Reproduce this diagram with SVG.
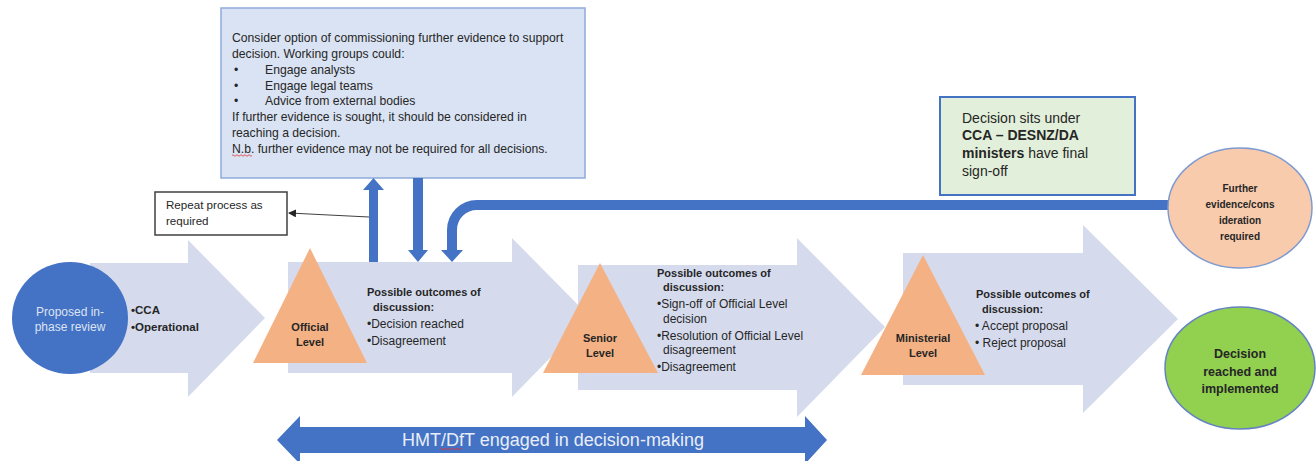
<svg xmlns="http://www.w3.org/2000/svg" width="1316" height="461" viewBox="0 0 1316 461">
<style>
  text { font-family: "Liberation Sans", Arial, sans-serif; fill: #262626; }
  .big { fill: #d5dbed; }
  .tri { fill: #f4b183; }
  .b { font-weight: bold; }
  .t10 { font-size: 10px; }
  .t11 { font-size: 11px; }
  .t12 { font-size: 12px; }
  .bx { font-size: 12.2px; }
  .mid { text-anchor: middle; }
  .blue { fill: #4472c4; }
</style>
<defs>
  <marker id="ah" markerWidth="8" markerHeight="8" refX="7" refY="4" orient="auto" markerUnits="userSpaceOnUse">
    <path d="M0,0 L8,4 L0,8 z" fill="#262626"/>
  </marker>
</defs>

<g id="stage-arrows">
  <polygon class="big" points="90,263 188,263 188,240 265,318 188,397 188,373 90,373"/>
  <polygon class="big" points="288,262 512,262 512,238 590,317 512,397 512,373 288,373"/>
  <polygon class="big" points="578,265 797,265 797,238 885,327 797,417 797,390 578,390"/>
  <polygon class="big" points="903,253 1083,253 1083,225 1178,319 1083,413 1083,385 903,385"/>
</g>

<g id="proposed">
  <ellipse cx="70" cy="318" rx="58" ry="56" fill="#4472c4"/>
  <text x="70" y="316" class="mid" style="font-size:12px;fill:#dce4f2">Proposed in-</text>
  <text x="70" y="331" class="mid" style="font-size:12px;fill:#dce4f2">phase review</text>
  <text x="131" y="314" class="b" style="font-size:11.5px">•CCA</text>
  <text x="131" y="331" class="b" style="font-size:11.5px">•Operational</text>
</g>

<g id="official">
  <polygon class="tri" points="310,248 367,363 253,363"/>
  <text x="310" y="331" class="b t11 mid">Official</text>
  <text x="310" y="346" class="b t11 mid">Level</text>
  <text x="367" y="296" class="b t11">Possible outcomes of</text>
  <text x="373" y="311" class="b t11">discussion:</text>
  <text x="367" y="328" class="t12">•Decision reached</text>
  <text x="367" y="345" class="t12">•Disagreement</text>
</g>

<g id="senior">
  <polygon class="tri" points="600,263 658,373 543,373"/>
  <text x="600" y="342" class="b t11 mid">Senior</text>
  <text x="600" y="357" class="b t11 mid">Level</text>
  <text x="657" y="277" class="b t11">Possible outcomes of</text>
  <text x="663" y="291" class="b t11">discussion:</text>
  <text x="657" y="308" class="t12">•Sign-off of Official Level</text>
  <text x="663" y="323" class="t12">decision</text>
  <text x="657" y="340" class="t12">•Resolution of Official Level</text>
  <text x="663" y="354" class="t12">disagreement</text>
  <text x="657" y="371" class="t12">•Disagreement</text>
</g>

<g id="ministerial">
  <polygon class="tri" points="923,255 985,375 861,375"/>
  <text x="923" y="342" class="b t11 mid">Ministerial</text>
  <text x="923" y="357" class="b t11 mid">Level</text>
  <text x="976" y="298" class="b t11">Possible outcomes of</text>
  <text x="982" y="313" class="b t11">discussion:</text>
  <text x="975" y="330" class="t12">• Accept proposal</text>
  <text x="975" y="347" class="t12">• Reject proposal</text>
</g>

<g id="evidence-box">
  <rect x="221" y="8" width="364" height="170" fill="#dae3f3" stroke="#8eaadb" stroke-width="1.5"/>
  <text x="232" y="42" class="bx">Consider option of commissioning further evidence to support</text>
  <text x="232" y="58" class="bx">decision. Working groups could:</text>
  <text x="234" y="74" class="bx">•</text>
  <text x="265" y="74" class="bx">Engage analysts</text>
  <text x="234" y="90" class="bx">•</text>
  <text x="265" y="90" class="bx">Engage legal teams</text>
  <text x="234" y="105" class="bx">•</text>
  <text x="265" y="105" class="bx">Advice from external bodies</text>
  <text x="232" y="121" class="bx">If further evidence is sought, it should be considered in</text>
  <text x="232" y="137" class="bx">reaching a decision.</text>
  <text x="232" y="153" class="bx">N.b. further evidence may not be required for all decisions.</text>
  <path d="M232,155.5 q1,-1.5 2,0 t2,0 t2,0 t2,0 t2,0 t2,0 t2,0 t2,0 t2,0 t2,0" fill="none" stroke="#d33" stroke-width="0.8"/>
</g>

<g id="repeat-box">
  <rect x="155" y="192" width="132" height="43" fill="#ffffff" stroke="#404040" stroke-width="1.5"/>
  <text x="166" y="209" style="font-size:11.6px">Repeat process as</text>
  <text x="166" y="225" style="font-size:11.6px">required</text>
</g>

<g id="cca-box">
  <rect x="940" y="97" width="195" height="98" fill="#e2efda" stroke="#4472c4" stroke-width="2"/>
  <text x="962" y="123" style="font-size:14px">Decision sits under</text>
  <text x="962" y="140" class="b" style="font-size:14px">CCA – DESNZ/DA</text>
  <text x="962" y="158" style="font-size:14px"><tspan class="b">ministers</tspan> have final</text>
  <text x="962" y="176" style="font-size:14px">sign-off</text>
</g>

<g id="connectors">
  <line x1="369" y1="217" x2="289" y2="213" stroke="#404040" stroke-width="1.2" marker-end="url(#ah)"/>
  <path class="blue" d="M369,262 V190 H363 L373.5,178 L384,190 H378 V262 Z"/>
  <path class="blue" d="M413,178 H423 V250 H428 L418,262 L408,250 H413 Z"/>
  <path d="M1175,205 H477 A25,25 0 0 0 452,230 V251" fill="none" stroke="#4472c4" stroke-width="10"/>
  <polygon class="blue" points="441,250 463,250 452,262"/>
  <polygon class="blue" points="277,440 300,416 300,427 805,427 805,416 827,440 805,464 805,453 300,453 300,464"/>
  <text x="553" y="446" class="mid" style="font-size:18px;fill:#e8eef8">HMT/DfT engaged in decision-making</text>
  <path d="M440,449 q1,-1.5 2,0 t2,0 t2,0 t2,0 t2,0 t2,0 t2,0 t2,0 t2,0 t2,0 t2,0" fill="none" stroke="#d33" stroke-width="0.8"/>
</g>

<g id="further-evidence">
  <ellipse cx="1240" cy="208" rx="72" ry="60" fill="#f8cbad" stroke="#7f9bcf" stroke-width="1.5"/>
  <text x="1240" y="192" class="b t10 mid">Further</text>
  <text x="1240" y="208" class="b t10 mid">evidence/cons</text>
  <text x="1240" y="224" class="b t10 mid">ideration</text>
  <text x="1240" y="240" class="b t10 mid">required</text>
</g>

<g id="decision-reached">
  <ellipse cx="1240" cy="368" rx="75" ry="61" fill="#92d050" stroke="#6483c0" stroke-width="1.5"/>
  <text x="1240" y="358" class="b mid" style="font-size:12.5px">Decision</text>
  <text x="1240" y="376" class="b mid" style="font-size:12.5px">reached and</text>
  <text x="1240" y="393" class="b mid" style="font-size:12.5px">implemented</text>
</g>
</svg>
